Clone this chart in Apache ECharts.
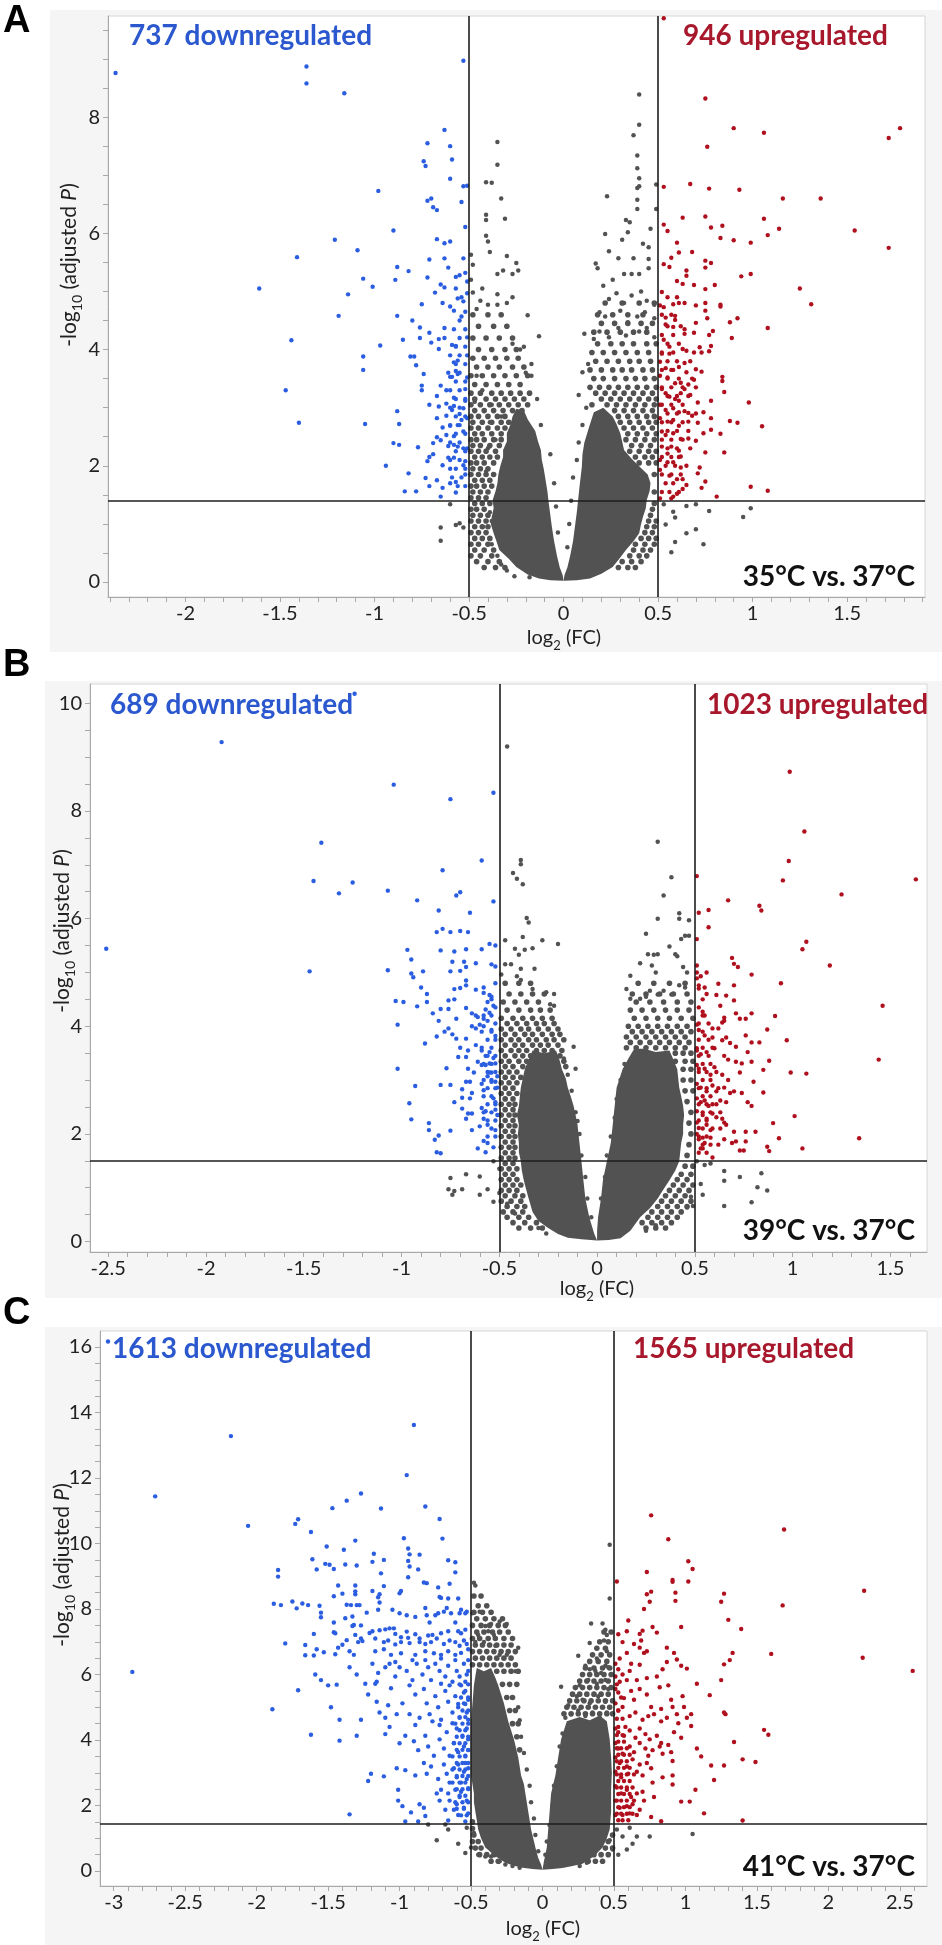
<!DOCTYPE html>
<html>
<head>
<meta charset="utf-8">
<script src="https://cdn.jsdelivr.net/npm/echarts/dist/echarts.min.js"></script>
<style>
html,body{margin:0;padding:0;background:#fff;}
#wrap{position:relative;width:942px;height:1945px;overflow:hidden;}
.bg{position:absolute;background:#f5f5f5;}
#chart{position:absolute;left:0;top:0;width:942px;height:1945px;}
</style>
</head>
<body>
<div id="wrap">
<div class="bg" style="left:50px;top:10px;width:892px;height:642px;"></div>
<div class="bg" style="left:45px;top:681px;width:897px;height:617px;"></div>
<div class="bg" style="left:45px;top:1327px;width:897px;height:618px;"></div>
<div id="chart"></div>
</div>
<script>
// ---------------- DATA ----------------
const FC_CUTOFF = [-0.5, 0.5];
const A_PCUT = 1.39, B_PCUT = 1.5, C_PCUT = 1.45;

const A_xLabels = [-2, -1.5, -1, -0.5, 0, 0.5, 1, 1.5];
const B_xLabels = [-2.5, -2, -1.5, -1, -0.5, 0, 0.5, 1, 1.5];
const C_xLabels = [-3, -2.5, -2, -1.5, -1, -0.5, 0, 0.5, 1, 1.5, 2, 2.5];
const A_yLabels = [0, 2, 4, 6, 8];
const B_yLabels = [0, 2, 4, 6, 8, 10];
const C_yLabels = [0, 2, 4, 6, 8, 10, 12, 14, 16];

const A_counts = ['737 downregulated', '946 upregulated', '35°C vs. 37°C'];
const B_counts = ['689 downregulated', '1023 upregulated', '39°C vs. 37°C'];
const C_counts = ['1613 downregulated', '1565 upregulated', '41°C vs. 37°C'];

// Points are [log2FC, -log10 adjP]; "rows" hold [-log10 adjP, [log2FC, ...]] for crowded bands.
// Panel A (35 vs 37)
const A_down = [[-2.37,8.76],[-1.36,8.87],[-1.36,8.58],[-1.16,8.41],[-0.53,8.97],[-0.63,7.78],[-0.72,7.55],[-0.60,7.5],[-0.74,7.24],[-0.73,7.16],[-0.59,7.27],[-0.60,6.94],[-0.53,6.81],[-0.51,6.82],[-0.98,6.73],[-0.72,6.56],[-0.70,6.6],[-0.69,6.45],[-0.67,6.4],[-0.54,6.54],[-0.52,6.11],[-0.90,6.05],[-1.21,5.89],[-1.09,5.71],[-1.41,5.59],[-0.67,5.9],[-0.63,5.83],[-0.60,5.86],[-0.71,5.55],[-0.63,5.57],[-0.53,5.57],[-0.88,5.42],[-0.82,5.35],[-0.61,5.41],[-1.61,5.05],[-1.06,5.22],[-1.01,5.08],[-0.89,5.2],[-0.72,5.24],[-0.57,5.25],[-0.55,5.28],[-0.52,5.32],[-1.14,4.95],[-0.65,5.12],[-0.68,4.98],[-0.63,5.07],[-0.57,5.05],[-0.51,5.17],[-0.75,4.78],[-0.64,4.8],[-0.60,4.74],[-0.58,4.67],[-0.56,4.88],[-0.53,4.83],[-0.54,4.57],[-0.51,4.97],[-1.19,4.58],[-0.88,4.58],[-0.80,4.5],[-0.76,4.38],[-0.71,4.29],[-0.63,4.37],[-0.76,4.2],[-0.70,4.12],[-0.66,4.18],[-0.66,4.01],[-0.63,4.2],[-1.44,4.16],[-0.97,4.07],[-0.85,4.17],[-0.59,4.08],[-0.57,4.06],[-0.51,4.21],[-1.06,3.88],[-1.06,3.65],[-0.81,3.88],[-0.79,3.88],[-0.78,3.73],[-0.74,3.58],[-0.58,3.78],[-0.56,3.81],[-0.51,3.9],[-0.57,3.63],[-0.56,3.58],[-0.51,3.52],[-0.60,3.53],[-0.59,3.53],[-1.47,3.3],[-0.75,3.38],[-0.75,3.3],[-0.65,3.38],[-0.62,3.3],[-0.67,3.2],[-0.58,3.17],[-0.52,3.32],[-0.52,3.12],[-0.71,3.05],[-0.66,3.02],[-0.62,3.07],[-0.58,3.03],[-0.53,2.99],[-0.55,2.89],[-0.88,2.94],[-0.87,2.72],[-1.40,2.74],[-1.05,2.72],[-0.67,2.82],[-0.62,2.86],[-0.59,2.96],[-0.54,2.79],[-0.51,2.82],[-0.64,2.66],[-0.60,2.69],[-0.56,2.7],[-0.67,2.49],[-0.65,2.44],[-0.62,2.53],[-0.58,2.51],[-0.53,2.59],[-0.90,2.39],[-0.87,2.36],[-0.77,2.32],[-0.69,2.39],[-0.61,2.34],[-0.58,2.36],[-0.56,2.33],[-0.53,2.3],[-0.51,2.3],[-0.69,2.2],[-0.71,2.15],[-0.72,2.08],[-0.61,2.14],[-0.58,2.14],[-0.53,2.01],[-0.52,2.08],[-0.94,2.0],[-0.60,1.95],[-0.64,2.01],[-0.82,1.87],[-0.52,1.85],[-0.73,1.79],[-0.67,1.75],[-0.71,1.65],[-0.64,1.62],[-0.60,1.7],[-0.57,1.72],[-0.84,1.56],[-0.78,1.56],[-0.65,1.47],[-0.57,1.54]];
const A_downRows = [[1.65,[-0.52,-0.56]],[1.8,[-0.54,-0.59]],[1.95,[-0.52,-0.57]],[2.1,[-0.55,-0.60]],[2.25,[-0.52,-0.57]],[2.4,[-0.55,-0.60]],[2.55,[-0.52,-0.57]],[2.7,[-0.55,-0.60]],[2.85,[-0.52,-0.57]],[3.0,[-0.55,-0.60]],[3.15,[-0.52,-0.57]],[3.3,[-0.55,-0.60]],[3.45,[-0.52,-0.57]],[3.6,[-0.55,-0.61]],[3.75,[-0.52,-0.57]],[3.9,[-0.55,-0.60]],[4.05,[-0.52,-0.57]],[4.2,[-0.55]],[4.35,[-0.52,-0.58]],[4.5,[-0.55]],[4.65,[-0.52]],[4.9,[-0.54]]];
const A_up = [[0.53,9.7],[0.75,8.32],[0.90,7.81],[1.06,7.73],[1.78,7.81],[1.72,7.64],[0.76,7.49],[0.53,6.8],[0.67,6.85],[0.77,6.77],[0.93,6.75],[1.16,6.6],[1.36,6.6],[0.63,6.27],[0.75,6.29],[0.53,6.15],[0.55,6.04],[0.78,6.1],[0.84,6.13],[0.83,5.92],[0.90,5.88],[0.99,5.84],[1.06,6.25],[1.08,5.97],[1.14,6.08],[1.54,6.05],[1.72,5.75],[0.60,5.84],[0.61,5.67],[0.68,5.68],[0.57,5.58],[0.53,5.47],[0.56,5.42],[0.65,5.36],[0.65,5.27],[0.60,5.18],[0.63,5.13],[0.75,5.53],[0.78,5.49],[0.75,5.41],[0.69,5.11],[0.75,5.04],[0.80,5.11],[0.94,5.26],[0.99,5.3],[1.25,5.05],[1.31,4.78],[0.52,4.99],[0.51,4.76],[0.53,4.73],[0.58,4.78],[0.61,4.8],[0.64,4.8],[0.70,4.76],[0.75,4.8],[0.83,4.77],[0.83,4.74],[0.54,4.55],[0.59,4.58],[0.59,4.51],[0.75,4.67],[0.76,4.54],[0.88,4.47],[0.92,4.54],[1.08,4.37],[0.54,4.43],[0.58,4.39],[0.64,4.35],[0.64,4.27],[0.69,4.29],[0.70,4.46],[0.77,4.25],[0.79,4.32],[0.89,4.2],[0.53,4.17],[0.56,4.05],[0.52,3.93],[0.56,3.93],[0.63,4.01],[0.65,3.98],[0.69,3.95],[0.72,4.04],[0.73,3.95],[0.78,4.06],[0.77,3.97],[0.51,3.79],[0.54,3.68],[0.57,3.65],[0.61,3.7],[0.64,3.77],[0.65,3.61],[0.70,3.66],[0.73,3.62],[0.51,3.55],[0.55,3.52],[0.59,3.42],[0.62,3.43],[0.66,3.4],[0.69,3.48],[0.70,3.35],[0.84,3.53],[0.84,3.46],[0.85,3.27],[0.52,3.32],[0.54,3.25],[0.56,3.19],[0.59,3.15],[0.61,3.12],[0.62,3.25],[0.64,3.32],[0.67,3.22],[0.71,3.09],[0.78,3.12],[0.98,3.09],[0.51,3.05],[0.54,2.96],[0.58,2.99],[0.61,2.92],[0.64,2.94],[0.66,2.91],[0.68,2.86],[0.74,2.92],[0.51,2.82],[0.55,2.76],[0.58,2.79],[0.61,2.69],[0.66,2.76],[0.71,2.74],[0.78,2.82],[0.88,2.77],[0.92,2.74],[1.05,2.68],[0.52,2.59],[0.54,2.53],[0.58,2.56],[0.62,2.46],[0.66,2.47],[0.70,2.43],[0.74,2.56],[0.78,2.62],[0.83,2.55],[0.52,2.33],[0.55,2.21],[0.57,2.33],[0.61,2.26],[0.62,2.16],[0.75,2.23],[0.85,2.23],[0.51,2.1],[0.55,2.06],[0.58,2.06],[0.62,1.97],[0.72,1.97],[0.71,1.87],[0.75,1.73],[0.73,1.62],[0.51,1.93],[0.56,1.83],[0.60,1.77],[0.63,1.77],[0.65,1.67],[0.63,1.6],[0.60,1.52],[0.58,1.47],[0.57,1.44],[0.51,1.44],[0.81,1.47],[0.99,1.64],[1.08,1.57]];
const A_upRows = [[1.55,[0.52,0.56,0.61]],[1.7,[0.54,0.58]],[1.85,[0.52,0.57,0.62]],[2.0,[0.54,0.59,0.65]],[2.15,[0.52,0.57,0.61]],[2.3,[0.55,0.60,0.67]],[2.45,[0.52,0.57,0.63]],[2.6,[0.55,0.60,0.66]],[2.75,[0.52,0.57,0.63]],[2.9,[0.55,0.60,0.70]],[3.05,[0.52,0.57,0.63]],[3.2,[0.55,0.60,0.66]],[3.35,[0.52,0.57,0.63]],[3.5,[0.55,0.61,0.68]],[3.65,[0.52,0.58]],[3.8,[0.55,0.60,0.67]],[3.95,[0.52,0.58]],[4.1,[0.55,0.61]],[4.25,[0.52,0.58]],[4.4,[0.55,0.62]],[4.6,[0.52,0.57]],[4.9,[0.55,0.60]]];
const A_ns = [[-0.35,7.57],[-0.35,7.18],[-0.41,6.88],[-0.38,6.87],[-0.33,6.6],[-0.41,6.32],[-0.41,6.23],[-0.31,6.25],[-0.41,5.96],[-0.40,5.86],[-0.39,5.68],[-0.49,5.63],[-0.48,5.46],[-0.30,5.61],[-0.25,5.49],[-0.24,5.36],[-0.32,5.36],[-0.35,5.3],[-0.27,5.3],[-0.48,4.98],[-0.44,4.84],[-0.40,4.77],[-0.35,4.77],[-0.27,4.9],[-0.19,4.59],[-0.13,4.23],[-0.17,3.75],[-0.20,3.6],
[-0.65,0.94],[-0.65,0.71],[-0.60,1.34],[-0.55,1.01],[-0.57,0.98],[-0.53,0.94],
[-0.46,3.55],[-0.43,3.3],[-0.47,3.1],[-0.41,3.15],[-0.39,2.75],[-0.40,2.3],[-0.41,1.9],[-0.39,1.2],[-0.38,0.65],[-0.35,0.45],[-0.33,0.3],[-0.30,0.2],[-0.38,1.05],[-0.36,2.45],[-0.33,2.85],[-0.38,3.05],[-0.17,3.55],[-0.14,3.15],[-0.12,2.7],[-0.07,2.2],[-0.05,1.7],[-0.04,1.3],[-0.03,0.85],[-0.26,0.1],[-0.18,0.08],[-0.23,4.0],[-0.27,4.1],[-0.21,4.05],[-0.46,4.7],[-0.35,4.95],[-0.30,4.8],[-0.43,5.05],[-0.49,5.2],
[0.40,8.39],[0.40,7.87],[0.37,7.69],[0.39,7.34],[0.39,7.12],[0.40,6.95],[0.39,6.78],[0.40,6.81],[0.23,6.64],[0.39,6.58],[0.39,6.42],[0.49,6.42],[0.49,6.84],[0.33,6.23],[0.35,6.19],[0.46,6.08],[0.34,6.02],[0.31,5.89],[0.22,5.99],[0.24,5.69],[0.29,5.57],[0.37,5.57],[0.45,5.76],[0.45,5.56],[0.42,5.82],[0.17,5.48],[0.18,5.4],[0.26,5.2],[0.32,5.3],[0.36,5.3],[0.40,5.3],[0.45,5.4],[0.21,5.1],[0.24,4.87],[0.28,4.97],[0.32,4.8],[0.36,4.93],[0.41,5.0],[0.44,4.84],[0.48,4.77],[0.19,4.64],[0.22,4.57],[0.26,4.6],[0.30,4.67],[0.34,4.47],[0.39,4.57],[0.43,4.64],[0.48,4.54],[0.11,4.27],[0.16,4.18],[0.19,4.31],[0.24,4.21],[0.29,4.37],[0.33,4.24],[0.40,4.31],[0.44,4.37],[0.48,4.21],[0.13,3.75],[0.08,3.22],[0.10,3.61],
[0.53,1.34],[0.58,1.21],[0.65,1.31],[0.70,1.34],[0.77,1.22],[0.54,0.99],[0.59,1.11],[0.65,0.84],[0.70,0.91],[0.74,0.65],[0.59,0.69],[0.57,0.51],[0.99,1.27],[0.95,1.12],
[0.12,3.0],[0.10,2.7],[0.08,2.4],[0.07,2.1],[0.05,1.8],[0.04,1.4],[0.03,1.0],[0.02,0.6]];
const A_nsRows = [[0.25,[-0.42,-0.36,-0.31,0.29,0.34,0.38]],[0.35,[-0.46,-0.40,-0.34,0.31,0.36,0.41]],[0.45,[-0.49,-0.44,-0.38,0.35,0.40,0.44]],[0.55,[-0.47,-0.42,-0.37,0.37,0.42,0.46]],[0.65,[-0.49,-0.45,-0.40,0.38,0.43,0.48]],[0.75,[-0.47,-0.43,-0.39,0.41,0.45,0.49]],[0.85,[-0.49,-0.45,-0.41,0.43,0.47]],[0.95,[-0.47,-0.43,-0.40,0.44,0.48]],[1.05,[-0.49,-0.45,-0.41,0.45,0.49]],[1.15,[-0.48,-0.44,-0.40,0.46]],[1.25,[-0.49,-0.46,-0.42,0.47]],[1.35,[-0.47,-0.43,-0.39,0.48]],[1.45,[-0.49,-0.45,-0.41]],[1.55,[-0.48,-0.44,-0.40,0.48]],[1.65,[-0.49,-0.46,-0.42,-0.38]],[1.75,[-0.47,-0.43,-0.39]],[1.85,[-0.49,-0.45,-0.41,-0.37,0.48]],[1.95,[-0.48,-0.44,-0.40]],[2.05,[-0.49,-0.46,-0.42,-0.37,0.40,0.45,0.49]],[2.15,[-0.47,-0.43,-0.39,-0.35,0.38,0.43,0.47]],[2.25,[-0.49,-0.45,-0.41,-0.36,0.35,0.40,0.45,0.49]],[2.35,[-0.48,-0.44,-0.39,-0.34,0.36,0.41,0.46]],[2.45,[-0.49,-0.46,-0.42,-0.37,-0.33,0.33,0.38,0.43,0.48]],[2.55,[-0.47,-0.43,-0.38,-0.33,0.34,0.39,0.44,0.49]],[2.65,[-0.49,-0.45,-0.40,-0.35,-0.31,0.32,0.37,0.42,0.47]],[2.75,[-0.48,-0.43,-0.38,-0.33,-0.29,0.30,0.35,0.40,0.45,0.49]],[2.85,[-0.49,-0.45,-0.40,-0.35,-0.31,0.29,0.34,0.39,0.44,0.48]],[2.95,[-0.47,-0.42,-0.37,-0.32,-0.27,-0.22,0.27,0.32,0.37,0.42,0.47]],[3.05,[-0.49,-0.44,-0.39,-0.34,-0.29,-0.24,-0.19,0.15,0.23,0.28,0.33,0.38,0.43,0.48]],[3.15,[-0.47,-0.41,-0.36,-0.31,-0.26,-0.21,0.20,0.25,0.30,0.35,0.40,0.45,0.49]],[3.25,[-0.49,-0.44,-0.38,-0.33,-0.28,-0.23,-0.18,0.17,0.22,0.27,0.32,0.37,0.42,0.47]],[3.35,[0.14,0.19,0.24,0.29,0.34,0.39,0.44,0.49]],[3.4,[-0.47,-0.41,-0.35,-0.29,-0.23]],[3.5,[0.16,0.21,0.27,0.33,0.38,0.43,0.48]],[3.55,[-0.49,-0.43,-0.37,-0.31,-0.25,-0.19]],[3.65,[0.14,0.20,0.26,0.31,0.36,0.42,0.47]],[3.7,[-0.46,-0.40,-0.34,-0.27,-0.21]],[3.8,[0.17,0.23,0.29,0.35,0.40,0.46]],[3.85,[-0.48,-0.42,-0.36,-0.30,-0.24]],[3.95,[0.15,0.21,0.27,0.33,0.39,0.45]],[4.0,[-0.45,-0.38,-0.31,-0.25]],[4.1,[0.18,0.25,0.31,0.37,0.44,0.49]],[4.2,[-0.48,-0.41,-0.34,-0.27]],[4.3,[0.16,0.23,0.30,0.37,0.44]],[4.4,[-0.45,-0.37,-0.30]],[4.45,[0.20,0.27,0.34,0.41,0.47]],[4.6,[-0.48,-0.40,-0.33,0.18,0.26,0.34,0.42]],[4.8,[0.22,0.31,0.40,0.48]]];
// solid-looking core of the non-significant cloud (outline)
const A_denseL = [[0.0,0.02],[-0.07,0.03],[-0.13,0.06],[-0.19,0.13],[-0.25,0.26],[-0.29,0.4],[-0.34,0.55],[-0.355,0.7],[-0.37,0.84],[-0.385,1.0],[-0.38,1.12],[-0.37,1.27],[-0.375,1.41],[-0.36,1.56],[-0.35,1.7],[-0.345,1.85],[-0.335,1.99],[-0.32,2.15],[-0.32,2.27],[-0.30,2.42],[-0.30,2.56],[-0.28,2.72],[-0.27,2.85],[-0.25,2.98],[-0.21,2.95],[-0.19,2.8],[-0.15,2.6],[-0.135,2.42],[-0.12,2.27],[-0.115,2.1],[-0.105,1.95],[-0.095,1.75],[-0.085,1.55],[-0.08,1.4],[-0.072,1.2],[-0.062,0.95],[-0.05,0.7],[-0.035,0.45],[-0.02,0.25],[-0.005,0.12]];
const A_denseR = [[0.0,0.02],[0.07,0.03],[0.14,0.06],[0.2,0.14],[0.26,0.26],[0.3,0.42],[0.33,0.55],[0.37,0.7],[0.40,0.84],[0.41,1.0],[0.42,1.12],[0.435,1.27],[0.44,1.41],[0.455,1.56],[0.46,1.7],[0.445,1.85],[0.40,1.99],[0.36,2.12],[0.32,2.27],[0.31,2.42],[0.30,2.56],[0.28,2.72],[0.26,2.85],[0.21,3.0],[0.16,2.92],[0.14,2.72],[0.125,2.56],[0.11,2.4],[0.10,2.2],[0.097,1.99],[0.09,1.8],[0.083,1.6],[0.077,1.41],[0.07,1.2],[0.06,0.95],[0.05,0.7],[0.035,0.45],[0.02,0.25],[0.005,0.12]];

// Panel B (39 vs 37)
const B_down = [[-1.24,10.18],[-1.92,9.28],[-2.51,5.44],[-1.04,8.49],[-0.75,8.22],[-0.53,8.34],[-1.41,7.41],[-0.59,7.08],[-1.45,6.7],[-1.25,6.67],[-1.32,6.47],[-1.07,6.52],[-0.79,6.9],[-0.92,6.34],[-0.81,6.15],[-0.72,6.43],[-0.70,6.49],[-0.65,6.11],[-0.53,6.32],[-1.47,5.02],[-1.07,5.04],[-0.82,5.75],[-0.79,5.81],[-0.75,5.75],[-0.70,5.77],[-0.66,5.75],[-0.80,5.41],[-0.73,5.39],[-0.67,5.43],[-0.59,5.43],[-0.55,5.53],[-0.52,5.5],[-0.97,5.42],[-0.95,5.24],[-0.95,4.98],[-0.94,4.91],[-0.89,5.02],[-0.75,5.02],[-0.74,5.2],[-0.70,5.03],[-0.68,5.2],[-0.67,5.1],[-0.62,5.17],[-0.54,5.15],[-0.52,5.11],[-0.90,4.72],[-0.87,4.6],[-0.87,4.45],[-0.92,4.37],[-1.03,4.47],[-0.99,4.45],[-0.73,4.69],[-0.70,4.71],[-0.67,4.85],[-0.67,4.76],[-0.62,4.68],[-0.58,4.72],[-0.58,4.62],[-0.55,4.58],[-0.54,4.5],[-0.56,4.45],[-0.84,4.24],[-0.81,4.1],[-0.80,4.32],[-0.76,4.32],[-0.76,4.48],[-0.73,4.5],[-0.72,4.14],[-0.67,4.34],[-0.64,4.24],[-0.62,4.2],[-0.61,4.17],[-0.58,4.14],[-0.57,4.31],[-0.55,4.25],[-0.53,4.38],[-1.02,4.03],[-0.82,3.81],[-0.78,3.9],[-0.76,3.96],[-0.74,3.85],[-0.72,3.77],[-0.67,3.77],[-0.64,4.0],[-0.62,3.96],[-0.60,4.03],[-0.58,4.0],[-0.56,4.1],[-0.54,3.93],[-0.52,3.82],[-0.88,3.68],[-0.70,3.6],[-0.66,3.55],[-0.62,3.65],[-0.59,3.55],[-0.57,3.45],[-0.55,3.52],[-0.53,3.41],[-0.52,3.31],[-0.71,3.43],[-0.67,3.43],[-0.61,3.34],[-0.57,3.28],[-0.55,3.31],[-0.54,3.14],[-0.51,3.07],[-0.55,3.14],[-0.52,2.97],[-1.02,3.21],[-0.77,3.22],[-0.66,3.21],[-0.63,3.14],[-0.59,3.28],[-0.56,3.07],[-0.93,2.89],[-0.80,2.91],[-0.75,2.91],[-0.67,2.97],[-0.65,2.97],[-0.59,2.93],[-0.54,2.97],[-0.51,2.86],[-0.96,2.57],[-0.73,2.59],[-0.69,2.83],[-0.69,2.67],[-0.64,2.76],[-0.65,2.66],[-0.58,2.81],[-0.53,2.66],[-0.52,2.59],[-0.95,2.27],[-0.69,2.47],[-0.66,2.38],[-0.64,2.38],[-0.67,2.28],[-0.59,2.48],[-0.57,2.42],[-0.58,2.28],[-0.52,2.45],[-0.51,2.35],[-0.86,2.2],[-0.86,2.07],[-0.75,2.06],[-0.64,2.07],[-0.60,2.14],[-0.56,2.17],[-0.52,2.07],[-0.81,1.97],[-0.83,1.89],[-0.58,1.87],[-0.56,1.83],[-0.61,1.73],[-0.57,1.66],[-0.82,1.66],[-0.80,1.64]];
const B_downRows = [[1.75,[-0.53]],[1.95,[-0.52,-0.56]],[2.1,[-0.54]],[2.25,[-0.52,-0.56]],[2.4,[-0.54,-0.58]],[2.55,[-0.52,-0.56]],[2.7,[-0.54,-0.58]],[2.85,[-0.52,-0.56]],[3.0,[-0.54,-0.58]],[3.15,[-0.52,-0.56]],[3.3,[-0.54,-0.58]],[3.45,[-0.52,-0.56]],[3.6,[-0.54,-0.59]],[3.75,[-0.52,-0.56]],[3.9,[-0.54,-0.59]],[4.05,[-0.52]],[4.2,[-0.54,-0.58]],[4.35,[-0.52]],[4.55,[-0.54]],[4.8,[-0.52]]];
const B_up = [[0.985,8.73],[1.06,7.62],[0.98,7.07],[0.95,6.71],[1.63,6.73],[0.51,6.79],[1.25,6.45],[0.67,6.34],[0.83,6.24],[0.84,6.15],[0.52,6.11],[0.57,6.16],[0.57,5.84],[0.51,5.62],[1.07,5.57],[1.05,5.43],[0.69,5.27],[0.70,5.16],[0.72,5.1],[1.19,5.13],[0.79,4.96],[0.94,4.8],[0.51,5.13],[0.51,5.0],[0.53,4.93],[0.56,5.0],[0.51,4.89],[0.52,4.76],[0.55,4.72],[0.62,4.79],[0.70,4.76],[0.56,4.6],[0.61,4.58],[0.66,4.57],[0.70,4.48],[0.63,4.38],[1.46,4.38],[0.54,4.27],[0.55,4.2],[0.65,4.16],[0.64,4.07],[0.62,3.96],[0.65,4.1],[0.71,4.24],[0.73,4.14],[0.76,4.14],[0.79,4.24],[0.91,4.19],[0.51,4.03],[0.52,3.93],[0.55,3.83],[0.59,3.96],[0.59,3.79],[0.64,3.74],[0.66,3.79],[0.68,3.69],[0.71,3.62],[0.76,3.83],[0.79,3.7],[0.83,3.7],[0.87,3.94],[0.97,3.74],[0.51,3.59],[0.51,3.55],[0.53,3.48],[0.56,3.52],[0.60,3.59],[0.65,3.45],[0.67,3.38],[0.71,3.34],[0.74,3.31],[0.77,3.52],[0.79,3.34],[0.88,3.36],[1.44,3.38],[0.51,3.28],[0.52,3.21],[0.55,3.21],[0.58,3.1],[0.60,3.24],[0.64,3.1],[0.67,3.0],[0.73,3.14],[0.80,2.97],[0.85,3.19],[0.99,3.14],[1.07,3.12],[0.51,2.93],[0.53,2.86],[0.56,2.79],[0.59,2.9],[0.61,2.79],[0.65,2.86],[0.68,2.76],[0.70,2.79],[0.74,2.76],[0.85,2.77],[0.51,2.66],[0.53,2.59],[0.55,2.62],[0.57,2.52],[0.59,2.55],[0.63,2.62],[0.66,2.59],[0.77,2.59],[0.79,2.52],[0.51,2.42],[0.54,2.35],[0.56,2.28],[0.59,2.38],[0.61,2.31],[0.51,2.21],[0.52,2.11],[0.56,2.17],[0.58,2.07],[0.64,2.28],[0.65,2.21],[0.66,2.17],[0.90,2.2],[1.01,2.33],[0.51,2.0],[0.52,1.9],[0.54,1.93],[0.58,1.93],[0.65,1.9],[0.70,2.04],[0.76,2.04],[0.81,2.04],[0.53,1.73],[0.54,1.73],[0.55,1.83],[0.59,1.56],[0.69,1.83],[0.71,1.86],[0.76,1.86],[0.73,1.69],[0.75,1.69],[0.87,1.76],[0.88,1.68],[0.93,1.92],[1.05,1.73],[1.34,1.92]];
const B_upRows = [[1.65,[0.52,0.56]],[1.8,[0.54,0.58,0.62]],[1.95,[0.52,0.56]],[2.1,[0.54,0.59,0.63]],[2.25,[0.52,0.56]],[2.4,[0.54,0.58,0.63]],[2.55,[0.52,0.56,0.61]],[2.7,[0.54,0.58]],[2.85,[0.52,0.56,0.62]],[3.0,[0.54,0.58]],[3.15,[0.52,0.56,0.61]],[3.3,[0.54,0.58]],[3.45,[0.52,0.57]],[3.6,[0.54,0.59]],[3.75,[0.52,0.57]],[3.9,[0.54]],[4.05,[0.52,0.57]],[4.2,[0.54]],[4.35,[0.52]],[4.5,[0.54]],[4.7,[0.52]]];
const B_ns = [[-0.46,9.2],[-0.43,6.85],[-0.41,6.74],[-0.39,7.01],[-0.39,7.09],[-0.38,6.64],[-0.36,6.01],[-0.35,5.93],[-0.28,5.6],[-0.20,5.53],[-0.38,5.66],[-0.47,5.6],[-0.42,5.44],[-0.40,5.33],[-0.37,5.42],[-0.33,5.45],[-0.47,5.15],[-0.44,5.15],[-0.39,5.07],[-0.32,5.07],[-0.41,4.93],[-0.39,4.86],[-0.49,4.96],
[-0.33,4.69],[-0.26,4.63],[-0.22,4.6],[-0.24,4.41],[-0.22,4.38],[-0.12,3.62],[-0.11,3.21],[-0.10,2.24],
[-0.75,1.18],[-0.76,0.97],[-0.74,0.87],[-0.73,0.94],[-0.69,0.97],[-0.67,1.25],[-0.60,1.21],[-0.60,0.87],[-0.56,0.97],[-0.53,1.49],[-0.53,0.74],[-0.50,0.9],[-0.50,1.35],[-0.46,0.7],[-0.42,0.52],
[-0.17,3.4],[-0.15,3.1],[-0.13,2.8],[-0.11,2.4],[-0.09,2.0],[-0.08,1.6],[-0.06,1.2],[-0.05,0.8],[-0.03,0.45],[-0.26,0.15],[-0.30,0.25],
[0.31,7.43],[0.38,6.77],[0.34,6.43],[0.31,6.0],[0.42,6.1],[0.42,6.0],[0.47,5.97],[0.47,5.68],[0.45,5.68],[0.43,5.62],[0.25,5.72],[0.37,5.48],[0.26,5.34],[0.29,5.33],[0.31,5.34],[0.40,5.34],[0.41,5.3],[0.22,5.17],[0.28,5.13],[0.30,5.0],[0.44,5.1],[0.46,5.0],[0.17,4.94],[0.15,4.69],[0.17,4.51],[0.22,4.51],[0.25,4.55],[0.27,4.66],[0.31,4.59],[0.34,4.66],[0.38,4.59],[0.42,4.76],[0.45,4.72],
[0.51,1.49],[0.55,1.42],[0.65,1.31],[0.65,1.13],[0.73,1.2],[0.84,1.27],[0.82,1.01],[0.87,0.95],[0.79,0.73],[0.65,0.66],[0.53,1.07],[0.48,0.83],[0.49,0.66],[0.46,0.63],[0.47,0.94],[0.54,0.87],[0.58,1.45],
[0.14,3.3],[0.12,3.0],[0.10,2.65],[0.09,2.3],[0.07,1.95],[0.05,1.6],[0.04,1.2],[0.02,0.8],[0.25,0.2],[0.30,0.3]];
const B_nsRows = [[0.25,[-0.40,-0.34,-0.28,0.25,0.30,0.35]],[0.35,[-0.43,-0.37,-0.31,0.23,0.28,0.33,0.38]],[0.45,[-0.46,-0.40,-0.35,0.26,0.31,0.36,0.41]],[0.55,[-0.48,-0.43,-0.38,0.28,0.33,0.38,0.43]],[0.65,[-0.46,-0.41,-0.37,0.31,0.36,0.41,0.46]],[0.75,[-0.49,-0.44,-0.39,0.33,0.38,0.43,0.48]],[0.85,[-0.47,-0.42,-0.38,0.35,0.40,0.45]],[0.95,[-0.49,-0.45,-0.41,0.37,0.42,0.47]],[1.05,[-0.47,-0.43,-0.39,0.39,0.44,0.49]],[1.15,[-0.49,-0.45,-0.41,0.41,0.46]],[1.25,[-0.47,-0.43,0.43,0.48]],[1.35,[-0.49,-0.45,-0.41]],[1.4,[0.45,0.49]],[1.45,[-0.47,-0.43]],[1.55,[-0.49,-0.45,-0.42]],[1.6,[0.46]],[1.65,[-0.47,-0.43]],[1.75,[-0.49,-0.45,-0.42]],[1.8,[0.47]],[1.85,[-0.47,-0.43]],[1.95,[-0.49,-0.45,-0.42]],[2.0,[0.48]],[2.05,[-0.47,-0.43]],[2.15,[-0.49,-0.45,-0.42]],[2.2,[0.47]],[2.25,[-0.47,-0.43]],[2.35,[-0.49,-0.45,-0.42]],[2.4,[0.48]],[2.45,[-0.47,-0.43]],[2.55,[-0.49,-0.45,-0.42]],[2.6,[0.46]],[2.65,[-0.47,-0.43]],[2.75,[-0.49,-0.45,-0.41]],[2.8,[0.45,0.49]],[2.85,[-0.47,-0.43]],[2.95,[-0.49,-0.45,-0.41]],[3.0,[0.44,0.48]],[3.05,[-0.47,-0.43,-0.39]],[3.15,[-0.49,-0.45,-0.41]],[3.2,[0.44,0.48]],[3.25,[-0.47,-0.43,-0.38,-0.16]],[3.35,[-0.49,-0.45,-0.40,-0.36,-0.17,0.40,0.45,0.49]],[3.45,[-0.47,-0.42,-0.38,-0.34,-0.19]],[3.5,[0.40,0.44,0.48]],[3.55,[-0.49,-0.44,-0.40,-0.36,-0.31,-0.27,-0.23,-0.18]],[3.6,[0.15,0.20,0.25,0.30,0.35,0.40,0.45]],[3.65,[-0.47,-0.42,-0.38,-0.33,-0.29,-0.25,-0.20]],[3.7,[0.17,0.22,0.27,0.32,0.37,0.42,0.47]],[3.75,[-0.49,-0.44,-0.40,-0.35,-0.31,-0.26,-0.22,-0.17]],[3.8,[0.15,0.20,0.25,0.30,0.35,0.40,0.45]],[3.85,[-0.47,-0.42,-0.37,-0.33,-0.28,-0.23,-0.19]],[3.9,[0.18,0.23,0.28,0.33,0.38,0.43,0.48]],[3.95,[-0.49,-0.44,-0.39,-0.35,-0.30,-0.25,-0.20]],[4.0,[0.16,0.21,0.26,0.31,0.36,0.41,0.46]],[4.05,[-0.46,-0.41,-0.36,-0.31,-0.27,-0.22]],[4.15,[-0.49,-0.43,-0.38,-0.33,-0.28,-0.23,0.19,0.25,0.31,0.37,0.43,0.49]],[4.3,[-0.46,-0.40,-0.34,-0.29,-0.24,0.17,0.23,0.29,0.35,0.41,0.47]],[4.45,[-0.48,-0.42,-0.36,-0.30,0.20,0.27,0.34,0.41,0.48]],[4.6,[-0.45,-0.39,-0.33,-0.27,0.18,0.25,0.32,0.39,0.46]],[4.8,[-0.47,-0.40,-0.34,0.21,0.29,0.37,0.45]]];
const B_denseL = [[0.0,0.02],[-0.08,0.04],[-0.15,0.07],[-0.2,0.14],[-0.25,0.25],[-0.3,0.38],[-0.33,0.55],[-0.35,0.8],[-0.365,1.0],[-0.375,1.14],[-0.385,1.32],[-0.39,1.49],[-0.40,1.66],[-0.40,1.83],[-0.405,2.0],[-0.40,2.17],[-0.41,2.35],[-0.40,2.52],[-0.395,2.7],[-0.39,2.86],[-0.38,3.03],[-0.37,3.2],[-0.35,3.38],[-0.33,3.55],[-0.27,3.5],[-0.21,3.55],[-0.19,3.35],[-0.18,3.2],[-0.16,3.03],[-0.15,2.86],[-0.135,2.7],[-0.12,2.52],[-0.11,2.35],[-0.10,2.17],[-0.095,2.0],[-0.09,1.83],[-0.085,1.66],[-0.08,1.49],[-0.07,1.14],[-0.06,0.8],[-0.04,0.45],[-0.015,0.15]];
const B_denseR = [[0.0,0.02],[0.06,0.03],[0.12,0.06],[0.17,0.2],[0.22,0.45],[0.27,0.62],[0.31,0.8],[0.34,0.97],[0.37,1.14],[0.40,1.32],[0.42,1.49],[0.425,1.66],[0.43,1.83],[0.44,2.0],[0.44,2.17],[0.445,2.35],[0.44,2.52],[0.43,2.7],[0.42,2.86],[0.415,3.03],[0.41,3.2],[0.39,3.38],[0.37,3.55],[0.3,3.52],[0.24,3.58],[0.19,3.58],[0.16,3.4],[0.13,3.2],[0.115,3.03],[0.10,2.86],[0.095,2.7],[0.09,2.52],[0.085,2.35],[0.08,2.17],[0.075,2.0],[0.07,1.83],[0.06,1.66],[0.05,1.49],[0.03,1.14],[0.02,0.8],[0.005,0.45],[0.0,0.2]];

// Panel C (41 vs 37)
const C_down = [[-3.04,16.17],[-2.18,13.28],[-0.90,13.62],[-0.95,12.09],[-2.71,11.44],[-2.87,6.08],[-2.06,10.54],[-1.89,4.94],[-1.27,11.53],[-1.37,11.31],[-1.47,11.08],[-1.13,11.07],[-0.82,11.13],[-1.71,10.74],[-1.73,10.6],[-1.62,10.35],[-0.72,10.75],[-0.70,10.15],[-0.97,10.16],[-1.51,9.91],[-1.39,9.81],[-1.31,10.09],[-1.18,9.69],[-1.11,9.5],[-1.19,9.44],[-0.94,9.85],[-0.93,9.67],[-0.86,9.66],[-0.94,9.47],[-0.93,9.3],[-0.87,9.21],[-1.61,9.52],[-1.58,9.21],[-1.52,9.38],[-1.49,9.35],[-1.46,9.22],[-1.38,9.36],[-1.30,9.33],[-1.13,9.09],[-0.66,9.49],[-0.61,9.43],[-0.61,9.12],[-1.85,9.19],[-1.85,8.99],[-1.11,8.7],[-1.19,8.55],[-1.14,8.45],[-1.0,8.48],[-0.99,8.55],[-0.94,8.97],[-0.83,8.81],[-0.81,8.79],[-0.73,8.66],[-0.65,8.77],[-0.72,8.37],[-0.71,8.34],[-0.66,8.32],[-0.59,8.32],[-1.43,8.72],[-1.40,8.47],[-1.31,8.72],[-1.31,8.54],[-1.31,8.45],[-1.46,8.39],[-1.88,8.16],[-1.83,8.12],[-1.75,8.23],[-1.72,8.02],[-1.68,8.17],[-1.64,8.12],[-1.56,8.1],[-1.55,7.89],[-1.55,7.75],[-1.37,8.13],[-1.34,8.12],[-1.30,8.12],[-1.28,8.12],[-1.15,8.36],[-1.14,8.2],[-1.15,7.98],[-1.05,7.98],[-1.0,7.87],[-0.95,7.81],[-0.89,7.76],[-0.82,8.03],[-0.81,7.81],[-0.79,7.59],[-0.75,7.81],[-0.73,7.87],[-0.69,7.92],[-0.67,8.03],[-0.64,7.87],[-0.61,7.59],[-0.58,7.87],[-0.57,7.98],[-0.54,7.87],[-0.53,7.92],[-1.46,7.59],[-1.46,7.29],[-1.45,7.26],[-1.38,7.72],[-1.33,7.77],[-1.32,7.51],[-1.27,7.5],[-1.23,7.89],[-1.60,7.24],[-1.80,6.95],[-1.66,6.9],[-1.66,6.59],[-1.60,6.58],[-1.58,6.77],[-1.53,6.68],[-1.45,6.62],[-1.43,6.82],[-1.40,6.91],[-1.37,7.05],[-1.33,7.48],[-1.31,7.21],[-1.27,7.1],[-1.21,7.27],[-1.19,7.32],[-1.14,7.35],[-1.10,7.38],[-1.07,7.41],[-1.04,7.41],[-1.03,7.24],[-0.99,7.14],[-0.95,7.31],[-0.94,7.12],[-0.89,7.23],[-0.86,7.1],[-0.80,7.19],[-0.77,7.21],[-0.71,7.26],[-0.66,7.32],[-0.59,7.32],[-0.57,7.26],[-0.54,7.37],
[-1.29,6.99],[-1.26,7.02],[-1.17,7.1],[-1.11,6.99],[-1.08,7.04],[-1.03,6.92],[-0.99,6.99],[-0.93,6.96],[-0.86,6.99],[-0.82,6.93],[-0.78,6.99],[-0.74,7.1],[-0.69,6.93],[-0.65,7.04],[-0.61,6.99],[-0.58,6.88],[-0.55,7.04],[-0.53,6.93],[-0.52,6.77],[-0.57,6.66],[-0.61,6.6],[-0.66,6.71],[-0.71,6.6],[-0.76,6.65],[-0.82,6.71],[-0.89,6.6],[-0.99,6.65],[-1.06,6.6],[-1.11,6.77],[-1.17,6.71],[-1.32,6.6],[-1.35,6.71],
[-1.59,6.0],[-1.55,5.83],[-1.50,5.67],[-1.44,5.69],[-1.35,6.22],[-1.30,6.0],[-1.24,5.72],[-1.19,6.33],[-1.15,6.05],[-1.16,5.78],[-1.10,6.22],[-1.07,6.33],[-1.03,5.94],[-1.0,6.22],[-0.95,6.11],[-0.91,5.83],[-0.88,6.33],[-0.84,6.0],[-0.80,6.22],[-0.78,5.83],[-0.75,6.33],[-0.72,6.11],[-0.68,5.94],[-0.66,6.27],[-0.63,5.78],[-0.60,6.11],[-0.58,5.94],[-0.55,6.33],[-0.54,5.78],[-0.52,6.11],[-0.52,6.44],[-0.61,6.44],[-0.71,6.49],[-0.82,6.44],[-0.91,6.44],[-1.03,6.38],
[-1.71,5.52],[-1.48,5.0],[-1.42,4.62],[-1.27,4.62],[-1.22,5.39],[-1.16,5.17],[-1.14,4.84],[-1.10,4.68],[-1.06,5.58],[-1.02,4.79],[-0.98,5.12],[-0.93,4.79],[-0.89,5.39],[-0.86,4.68],[-0.83,5.56],[-0.81,5.12],[-0.79,4.79],[-0.75,5.34],[-0.73,5.0],[-0.71,4.62],[-0.68,5.5],[-0.66,5.17],[-0.63,4.84],[-0.61,5.34],[-0.59,5.0],[-0.58,4.68],[-0.55,5.45],[-0.55,5.12],[-0.53,4.84],[-0.52,5.23],[-0.52,4.62],[-0.57,5.67],[-0.65,5.67],[-0.71,5.72],[-0.93,5.67],[-1.17,5.72],[-1.08,5.06],[-0.77,4.57],
[-1.62,4.16],[-1.42,3.98],[-1.30,4.13],[-1.10,4.18],[-1.0,3.9],[-0.96,4.13],[-0.90,3.96],[-0.87,3.69],[-0.82,4.13],[-0.80,3.8],[-0.76,3.52],[-0.72,4.02],[-0.69,3.74],[-0.67,4.24],[-0.65,3.52],[-0.62,3.91],[-0.60,4.35],[-0.59,3.63],[-0.56,4.13],[-0.55,3.8],[-0.54,3.52],[-0.53,4.35],[-0.52,4.02],[-0.52,3.69],[-0.72,4.46],[-0.89,4.46],[-1.07,4.4],[-0.63,4.51],
[-1.22,2.75],[-1.20,2.97],[-1.11,2.89],[-1.02,3.14],[-0.96,3.08],[-0.89,2.92],[-0.83,3.3],[-0.81,2.97],[-0.78,3.19],[-0.73,2.81],[-0.69,3.25],[-0.67,2.97],[-0.65,2.7],[-0.62,3.14],[-0.60,2.86],[-0.59,3.25],[-0.57,2.7],[-0.55,3.03],[-0.54,3.3],[-0.53,2.81],[-0.52,3.14],[-0.52,2.53],[-0.71,2.48],[-0.66,2.37],[-0.61,2.48],[-0.57,2.42],
[-1.35,1.73],[-1.01,2.48],[-1.01,2.15],[-0.98,1.98],[-0.86,2.04],[-0.83,1.93],[-0.74,2.37],[-0.72,2.15],[-0.68,1.87],[-0.65,2.15],[-0.62,1.87],[-0.60,2.04],[-0.58,2.26],[-0.55,1.93],[-0.53,2.15],[-0.52,1.76],[-0.59,1.71],[-0.92,1.79],[-0.82,1.68],[-0.96,1.51],[-0.87,1.51],[-0.54,1.51],[-0.66,1.54]];
const C_downRows = [[1.7,[-0.53,-0.57]],[1.9,[-0.55,-0.60]],[2.1,[-0.52,-0.56,-0.61]],[2.3,[-0.54,-0.58]],[2.5,[-0.52,-0.56,-0.60]],[2.7,[-0.54,-0.58,-0.63]],[2.9,[-0.52,-0.56,-0.60]],[3.1,[-0.54,-0.58,-0.63]],[3.3,[-0.52,-0.56,-0.60]],[3.5,[-0.54,-0.58,-0.63]],[3.7,[-0.52,-0.56,-0.60]],[3.9,[-0.54,-0.58,-0.62]],[4.1,[-0.52,-0.56,-0.60]],[4.3,[-0.54,-0.58]],[4.5,[-0.52,-0.56,-0.61]],[4.7,[-0.54,-0.58]],[4.9,[-0.52,-0.56]],[5.1,[-0.54,-0.59]],[5.3,[-0.52,-0.57]],[5.5,[-0.54]],[5.7,[-0.52,-0.58]],[6.0,[-0.53]]];
const C_up = [[0.76,10.86],[1.69,10.43],[0.88,10.13],[1.02,9.46],[1.05,9.22],[0.73,9.13],[0.91,8.89],[0.91,8.83],[1.02,8.84],[0.52,8.84],[2.25,8.56],[1.68,8.11],[0.73,8.45],[0.76,8.53],[0.93,8.5],[0.93,8.25],[0.75,8.22],[0.71,8.0],[1.27,8.47],[1.25,8.22],[0.60,7.65],[1.30,7.67],[1.39,7.39],[0.97,7.45],[0.77,7.45],[0.80,7.28],[0.70,7.34],[0.68,7.24],[0.53,7.23],[0.59,7.32],[0.56,6.99],[0.64,6.93],[0.69,7.04],[0.68,6.82],[0.73,6.71],[0.59,6.66],[0.54,6.49],[0.71,6.66],[0.87,6.82],[0.92,6.66],[0.94,6.46],[0.97,6.27],[1.01,6.18],[1.33,6.66],[1.31,6.44],[1.27,6.31],[1.60,6.63],[2.24,6.51],[2.59,6.11],[0.51,6.33],[0.53,6.16],[0.62,6.33],[0.61,6.11],[0.68,6.3],[0.51,5.94],[0.54,5.78],[0.59,5.83],[0.66,5.83],[0.73,5.89],[0.80,5.94],[0.87,6.38],[0.84,6.16],[1.08,5.72],[1.17,5.37],[1.25,5.83],[0.51,5.56],[0.53,5.45],[0.57,5.28],[0.62,5.5],[0.64,5.23],[0.68,5.56],[0.73,5.39],[0.76,5.01],[0.82,5.61],[0.83,4.95],[0.88,5.67],[0.90,5.23],[0.91,5.01],[0.98,5.34],[0.99,5.01],[1.04,4.79],[1.27,4.84],[1.28,4.79],[0.51,5.12],[0.53,4.9],[0.56,5.01],[0.61,4.73],[0.65,4.84],[0.70,4.62],[0.74,4.73],[0.78,4.79],[0.83,4.57],[0.87,4.68],[0.94,4.79],[0.95,4.51],[1.01,4.68],[1.04,4.43],[1.55,4.31],[1.58,4.16],[1.34,3.94],[0.51,4.35],[0.53,4.24],[0.57,4.13],[0.61,4.29],[0.65,4.07],[0.68,4.35],[0.72,4.18],[0.75,4.02],[0.80,4.13],[0.83,3.91],[0.88,3.85],[0.92,4.24],[0.97,4.07],[1.08,3.74],[1.11,3.5],[1.18,3.22],[1.20,2.78],[1.27,3.22],[1.40,3.41],[1.49,3.33],[0.51,3.91],[0.53,3.74],[0.56,3.58],[0.61,3.8],[0.64,3.63],[0.68,3.91],[0.72,3.74],[0.74,3.52],[0.77,3.69],[0.82,3.8],[0.84,3.58],[0.90,3.63],[0.91,3.36],[0.51,3.47],[0.54,3.3],[0.59,3.19],[0.63,3.41],[0.68,3.25],[0.73,3.3],[0.76,3.14],[0.51,3.03],[0.55,2.86],[0.60,2.97],[0.66,3.03],[0.70,2.92],[0.77,2.7],[0.84,2.86],[0.91,2.92],[0.91,2.64],[0.51,2.59],[0.55,2.37],[0.59,2.48],[0.62,2.26],[0.66,2.37],[0.70,2.42],[0.71,2.15],[0.78,2.26],[0.51,2.15],[0.54,1.93],[0.59,1.98],[0.63,2.04],[0.68,1.87],[0.51,1.71],[0.56,1.71],[0.61,1.76],[0.66,1.71],[0.76,1.65],[0.83,1.52],[0.97,2.12],[1.03,2.12],[1.07,2.48],[1.13,1.76],[1.40,1.54]];
const C_upRows = [[1.55,[0.53,0.56,0.60]],[1.75,[0.52,0.55,0.59,0.63]],[1.95,[0.53,0.57,0.61]],[2.15,[0.52,0.55,0.59,0.64]],[2.35,[0.53,0.57,0.61]],[2.55,[0.52,0.55,0.59,0.63]],[2.75,[0.53,0.57,0.61]],[2.95,[0.52,0.55,0.59,0.64]],[3.15,[0.53,0.57,0.61]],[3.35,[0.52,0.55,0.59]],[3.55,[0.53,0.57,0.61]],[3.75,[0.52,0.55,0.59]],[3.95,[0.53,0.57]],[4.15,[0.52,0.56]],[4.4,[0.53,0.58]],[4.65,[0.52,0.56]],[4.9,[0.53]],[5.3,[0.55]],[5.7,[0.52]],[6.0,[0.56]]];
const C_ns = [[-0.48,8.8],[-0.47,8.72],[-0.44,7.92],[-0.36,7.54],[-0.40,7.48],[-0.30,7.62],[-0.25,7.54],[-0.17,6.82],[-0.49,7.87],[-0.45,7.21],[-0.38,7.32],[-0.34,7.21],[-0.33,6.88],[-0.30,6.6],[-0.25,6.6],[-0.41,6.99],[-0.47,6.99],[-0.39,6.71],
[-0.80,1.42],[-0.74,0.94],[-0.66,1.27],[-0.68,1.42],[-0.59,0.83],[-0.54,0.55],[-0.50,0.72],[-0.53,1.32],[-0.48,1.16],[-0.45,0.5],[-0.40,0.44],[-0.36,0.44],
[-0.19,6.1],[-0.17,5.0],[-0.16,4.6],[-0.15,4.1],[-0.13,3.6],[-0.11,3.1],[-0.09,2.6],[-0.08,2.1],[-0.06,1.6],[-0.05,1.1],[-0.03,0.6],[-0.30,0.3],[-0.26,0.2],[-0.21,0.15],[-0.16,0.1],
[0.47,9.96],[0.47,8.32],[0.34,7.56],[0.42,7.56],[0.44,7.37],[0.33,6.96],[0.43,7.04],[0.45,7.21],[0.25,6.57],[0.38,6.49],[0.44,6.27],[0.45,6.71],[0.30,6.27],[0.33,6.16],[0.37,6.11],[0.41,6.05],[0.46,6.22],[0.13,5.63],[0.26,5.67],[0.32,5.83],[0.38,5.72],[0.44,5.83],[0.46,5.56],[0.18,5.06],[0.24,5.34],[0.28,5.23],[0.33,5.12],[0.39,5.34],[0.44,5.17],[0.47,5.0],[0.16,4.68],[0.20,4.79],[0.25,4.9],[0.30,4.73],[0.35,4.84],[0.40,4.68],[0.45,4.84],
[0.52,1.27],[0.56,1.05],[0.61,1.32],[0.66,1.05],[0.63,0.83],[0.59,0.66],[0.53,0.5],[0.75,1.05],[1.05,1.13],[0.47,0.94],[0.49,0.66],
[0.14,4.2],[0.12,3.8],[0.10,3.2],[0.08,2.6],[0.07,2.0],[0.05,1.4],[0.03,0.9],[0.02,0.5],[0.31,0.25],[0.26,0.15]];
const C_nsRows = [[0.3,[-0.36,-0.31,0.32,0.37,0.42]],[0.5,[-0.44,-0.39,-0.34,0.36,0.41,0.46]],[0.7,[-0.47,-0.43,0.44,0.49]],[0.9,[-0.49,-0.45,0.46]],[1.1,[-0.48,0.49]],[1.3,[-0.49]],[1.5,[-0.49]],[3.7,[-0.16]],[4.1,[-0.18]],[4.5,[-0.21,-0.17]],[4.8,[0.15,0.20,0.25,0.30,0.35,0.40,0.45,0.49]],[4.9,[-0.23,-0.19]],[5.0,[0.17,0.22,0.27,0.32,0.37,0.42,0.47]],[5.2,[0.19,0.24,0.29,0.34,0.39,0.44,0.49]],[5.3,[-0.25,-0.21]],[5.4,[0.21,0.26,0.31,0.36,0.41,0.46]],[5.6,[0.23,0.28,0.33,0.38,0.43,0.48]],[5.7,[-0.28,-0.23,-0.18]],[5.8,[0.26,0.31,0.36,0.41,0.46]],[6.0,[0.28,0.33,0.38,0.43,0.48]],[6.1,[-0.32,-0.27,-0.22,-0.17]],[6.2,[0.30,0.36,0.42,0.47]],[6.3,[-0.49,-0.44,-0.39,-0.34,-0.29,-0.24,-0.19]],[6.4,[0.33,0.39,0.45]],[6.5,[-0.47,-0.42,-0.37,-0.32,-0.27,-0.22]],[6.6,[0.35,0.41,0.47]],[6.7,[-0.49,-0.44,-0.39,-0.34,-0.29,-0.24,-0.19]],[6.8,[0.38,0.44]],[6.9,[-0.47,-0.42,-0.37,-0.32,-0.27,-0.22]],[7.0,[0.40,0.46]],[7.1,[-0.49,-0.44,-0.38,-0.33,-0.27,-0.21]],[7.3,[-0.46,-0.41,-0.35,-0.30,-0.24,0.43,0.48]],[7.5,[-0.49,-0.43,-0.37,-0.31,-0.26]],[7.7,[-0.46,-0.40,-0.34,-0.28]],[7.9,[-0.48,-0.42,-0.36]],[8.1,[-0.45,-0.39]],[8.4,[-0.48,-0.43]]];
const C_denseL = [[0.0,0.04],[-0.07,0.06],[-0.14,0.1],[-0.2,0.16],[-0.26,0.25],[-0.33,0.45],[-0.40,0.72],[-0.43,1.0],[-0.45,1.27],[-0.46,1.55],[-0.47,1.82],[-0.48,2.1],[-0.48,2.37],[-0.49,2.65],[-0.50,2.92],[-0.50,4.57],[-0.495,4.85],[-0.49,5.12],[-0.485,5.4],[-0.48,5.67],[-0.47,5.95],[-0.46,6.2],[-0.41,6.1],[-0.36,6.2],[-0.33,5.9],[-0.31,5.67],[-0.29,5.4],[-0.27,5.12],[-0.255,4.85],[-0.24,4.57],[-0.22,4.3],[-0.20,4.02],[-0.185,3.75],[-0.17,3.47],[-0.16,3.2],[-0.15,2.92],[-0.13,2.65],[-0.12,2.37],[-0.11,2.1],[-0.10,1.82],[-0.09,1.55],[-0.08,1.27],[-0.065,1.0],[-0.05,0.72],[-0.03,0.4],[-0.01,0.2]];
const C_denseR = [[0.0,0.04],[0.07,0.06],[0.14,0.09],[0.21,0.15],[0.28,0.22],[0.36,0.45],[0.42,0.72],[0.45,1.0],[0.47,1.27],[0.475,1.55],[0.48,1.82],[0.48,2.5],[0.485,3.0],[0.48,3.47],[0.47,4.02],[0.46,4.3],[0.45,4.57],[0.40,4.75],[0.33,4.6],[0.26,4.7],[0.17,4.57],[0.15,4.3],[0.13,4.02],[0.12,3.75],[0.11,3.47],[0.10,3.2],[0.09,2.92],[0.075,2.65],[0.06,2.37],[0.055,2.1],[0.05,1.82],[0.045,1.55],[0.04,1.27],[0.035,1.0],[0.03,0.72],[0.02,0.5],[0.01,0.3]];

// ---------------- STYLE / LAYOUT ----------------
const BLUE = '#2b5de0', RED = '#b0101e', GREY = '#525252';
const BLUE_TXT = '#2b58cf', RED_TXT = '#a8182c';
const FONT = 'Lato, "Open Sans", sans-serif';

function fromRows(rows) { // [y, [x...]] -> [[x, y], ...]
  const out = [];
  rows.forEach(r => r[1].forEach(x => out.push([x, r[0]])));
  return out;
}

const panels = [
  {grid:{left:108, top:16, width:817, height:581}, x:[-2.41,1.912], y:[-0.258,9.74],
   xl:A_xLabels, yl:A_yLabels, down:A_down.concat(fromRows(A_downRows)), up:A_up.concat(fromRows(A_upRows)),
   ns:A_ns, nsBand:fromRows(A_nsRows), dense:[A_denseL,A_denseR], pcut:A_PCUT},
  {grid:{left:90, top:684, width:837, height:568}, x:[-2.593,1.687], y:[-0.195,10.36],
   xl:B_xLabels, yl:B_yLabels, down:B_down.concat(fromRows(B_downRows)), up:B_up.concat(fromRows(B_upRows)),
   ns:B_ns, nsBand:fromRows(B_nsRows), dense:[B_denseL,B_denseR], pcut:B_PCUT},
  {grid:{left:100, top:1331, width:827, height:555}, x:[-3.096,2.69], y:[-0.458,16.49],
   xl:C_xLabels, yl:C_yLabels, down:C_down.concat(fromRows(C_downRows)), up:C_up.concat(fromRows(C_upRows)),
   ns:C_ns, nsBand:fromRows(C_nsRows), dense:[C_denseL,C_denseR], pcut:C_PCUT}
];

function tickValues(lo, hi, step) { // positions of axis tick marks only
  const out = [];
  for (let k = Math.ceil(lo/step - 1e-9); k*step <= hi + 1e-9; k++) out.push(+(k*step).toFixed(4));
  return out;
}

const grids = [], xAxes = [], yAxes = [], series = [];
panels.forEach((p, i) => {
  grids.push(Object.assign({show:true, backgroundColor:'#ffffff', borderColor:'#d6d6d6', borderWidth:1, containLabel:false}, p.grid));
  xAxes.push({type:'value', gridIndex:i, min:p.x[0], max:p.x[1],
    axisLine:{show:true, onZero:false, lineStyle:{color:'#a8a8a8', width:1}},
    axisTick:{show:true, customValues:tickValues(p.x[0], p.x[1], 0.1), length:5, lineStyle:{color:'#a8a8a8'}},
    axisLabel:{customValues:p.xl, fontFamily:FONT, fontSize:20, color:'#222', margin:7},
    splitLine:{show:false}});
  yAxes.push({type:'value', gridIndex:i, min:p.y[0], max:p.y[1],
    axisLine:{show:true, onZero:false, lineStyle:{color:'#a8a8a8', width:1}},
    axisTick:{show:true, customValues:tickValues(p.y[0], p.y[1], 0.5), length:5, lineStyle:{color:'#a8a8a8'}},
    axisLabel:{customValues:p.yl, fontFamily:FONT, fontSize:20, color:'#222', margin:8},
    splitLine:{show:false}});
  series.push({type:'custom', xAxisIndex:i, yAxisIndex:i, silent:true, z:2, data:[[0,0]],
    renderItem:(params, api) => ({type:'group', children:p.dense.map(poly => ({
      type:'polygon', shape:{points: poly.map(pt => api.coord(pt))}, style:{fill:GREY}}))})});
  series.push({type:'scatter', xAxisIndex:i, yAxisIndex:i, data:p.nsBand, symbolSize:5.6, z:3, silent:true,
    itemStyle:{color:GREY, opacity:1}});
  series.push({type:'scatter', xAxisIndex:i, yAxisIndex:i, data:p.ns, symbolSize:4.5, z:3, silent:true,
    itemStyle:{color:GREY, opacity:1},
    markLine:{silent:true, symbol:'none', label:{show:false}, animation:false,
      lineStyle:{color:'#1e1e1e', width:1.6, type:'solid'},
      data:[{xAxis:FC_CUTOFF[0]},{xAxis:FC_CUTOFF[1]},{yAxis:p.pcut}]}});
  series.push({type:'scatter', xAxisIndex:i, yAxisIndex:i, data:p.down, symbolSize:4.4, z:4, silent:true, itemStyle:{color:BLUE, opacity:1}});
  series.push({type:'scatter', xAxisIndex:i, yAxisIndex:i, data:p.up, symbolSize:4.4, z:4, silent:true, itemStyle:{color:RED, opacity:1}});
});

function txt(x, y, text, font, fill, align) {
  return {type:'text', x:x, y:y, z:100, silent:true,
    style:{text:text, font:font, fill:fill, textAlign:align, align:align, textVerticalAlign:'middle', verticalAlign:'middle'}};
}
const boldAnn = 'bold 28px ' + FONT;
const letterFont = 'bold 38px "Liberation Sans", Arial, sans-serif';
const yTitleRich = {
  a:{fontFamily:FONT, fontSize:21, fill:'#222', color:'#222', lineHeight:30, verticalAlign:'middle'},
  s:{fontFamily:FONT, fontSize:14, fill:'#222', color:'#222', lineHeight:30, verticalAlign:'bottom'},
  i:{fontFamily:FONT, fontSize:21, fontStyle:'italic', fill:'#222', color:'#222', lineHeight:30, verticalAlign:'middle'}
};
const xTitleRich = {
  a:{fontFamily:FONT, fontSize:20, fill:'#222', color:'#222', lineHeight:28, verticalAlign:'middle'},
  s:{fontFamily:FONT, fontSize:13, fill:'#222', color:'#222', lineHeight:28, verticalAlign:'bottom'}
};
function yTitle(x, y) {
  return {type:'text', x:x, y:y, rotation:Math.PI/2, z:100, silent:true,
    style:{text:'{a|-log}{s|10}{a| (adjusted }{i|P}{a|)}', rich:yTitleRich, textAlign:'center', align:'center', textVerticalAlign:'middle', verticalAlign:'middle'}};
}
function xTitle(x, y) {
  return {type:'text', x:x, y:y, z:100, silent:true,
    style:{text:'{a|log}{s|2}{a| (FC)}', rich:xTitleRich, textAlign:'center', align:'center', textVerticalAlign:'middle', verticalAlign:'middle'}};
}

const graphics = [
  txt(3, 22, 'A', letterFont, '#000', 'left'),
  txt(3, 666, 'B', letterFont, '#000', 'left'),
  txt(3, 1314, 'C', letterFont, '#000', 'left'),
  txt(129, 36, A_counts[0], boldAnn, BLUE_TXT, 'left'),
  txt(683, 36, A_counts[1], boldAnn, RED_TXT, 'left'),
  txt(915, 577, A_counts[2], boldAnn, '#111', 'right'),
  txt(110, 705, B_counts[0], boldAnn, BLUE_TXT, 'left'),
  txt(707, 705, B_counts[1], boldAnn, RED_TXT, 'left'),
  txt(915, 1231, B_counts[2], boldAnn, '#111', 'right'),
  txt(112, 1349, C_counts[0], boldAnn, BLUE_TXT, 'left'),
  txt(633, 1349, C_counts[1], boldAnn, RED_TXT, 'left'),
  txt(915, 1867, C_counts[2], boldAnn, '#111', 'right'),
  yTitle(69, 265), yTitle(62, 931), yTitle(62, 1565),
  xTitle(564, 638), xTitle(597, 1289), xTitle(543, 1929)
];

const chart = echarts.init(document.getElementById('chart'), null, {renderer:'canvas', width:942, height:1945});
chart.setOption({
  animation:false,
  backgroundColor:'transparent',
  grid:grids, xAxis:xAxes, yAxis:yAxes, series:series,
  graphic:graphics
});
</script>
</body>
</html>
